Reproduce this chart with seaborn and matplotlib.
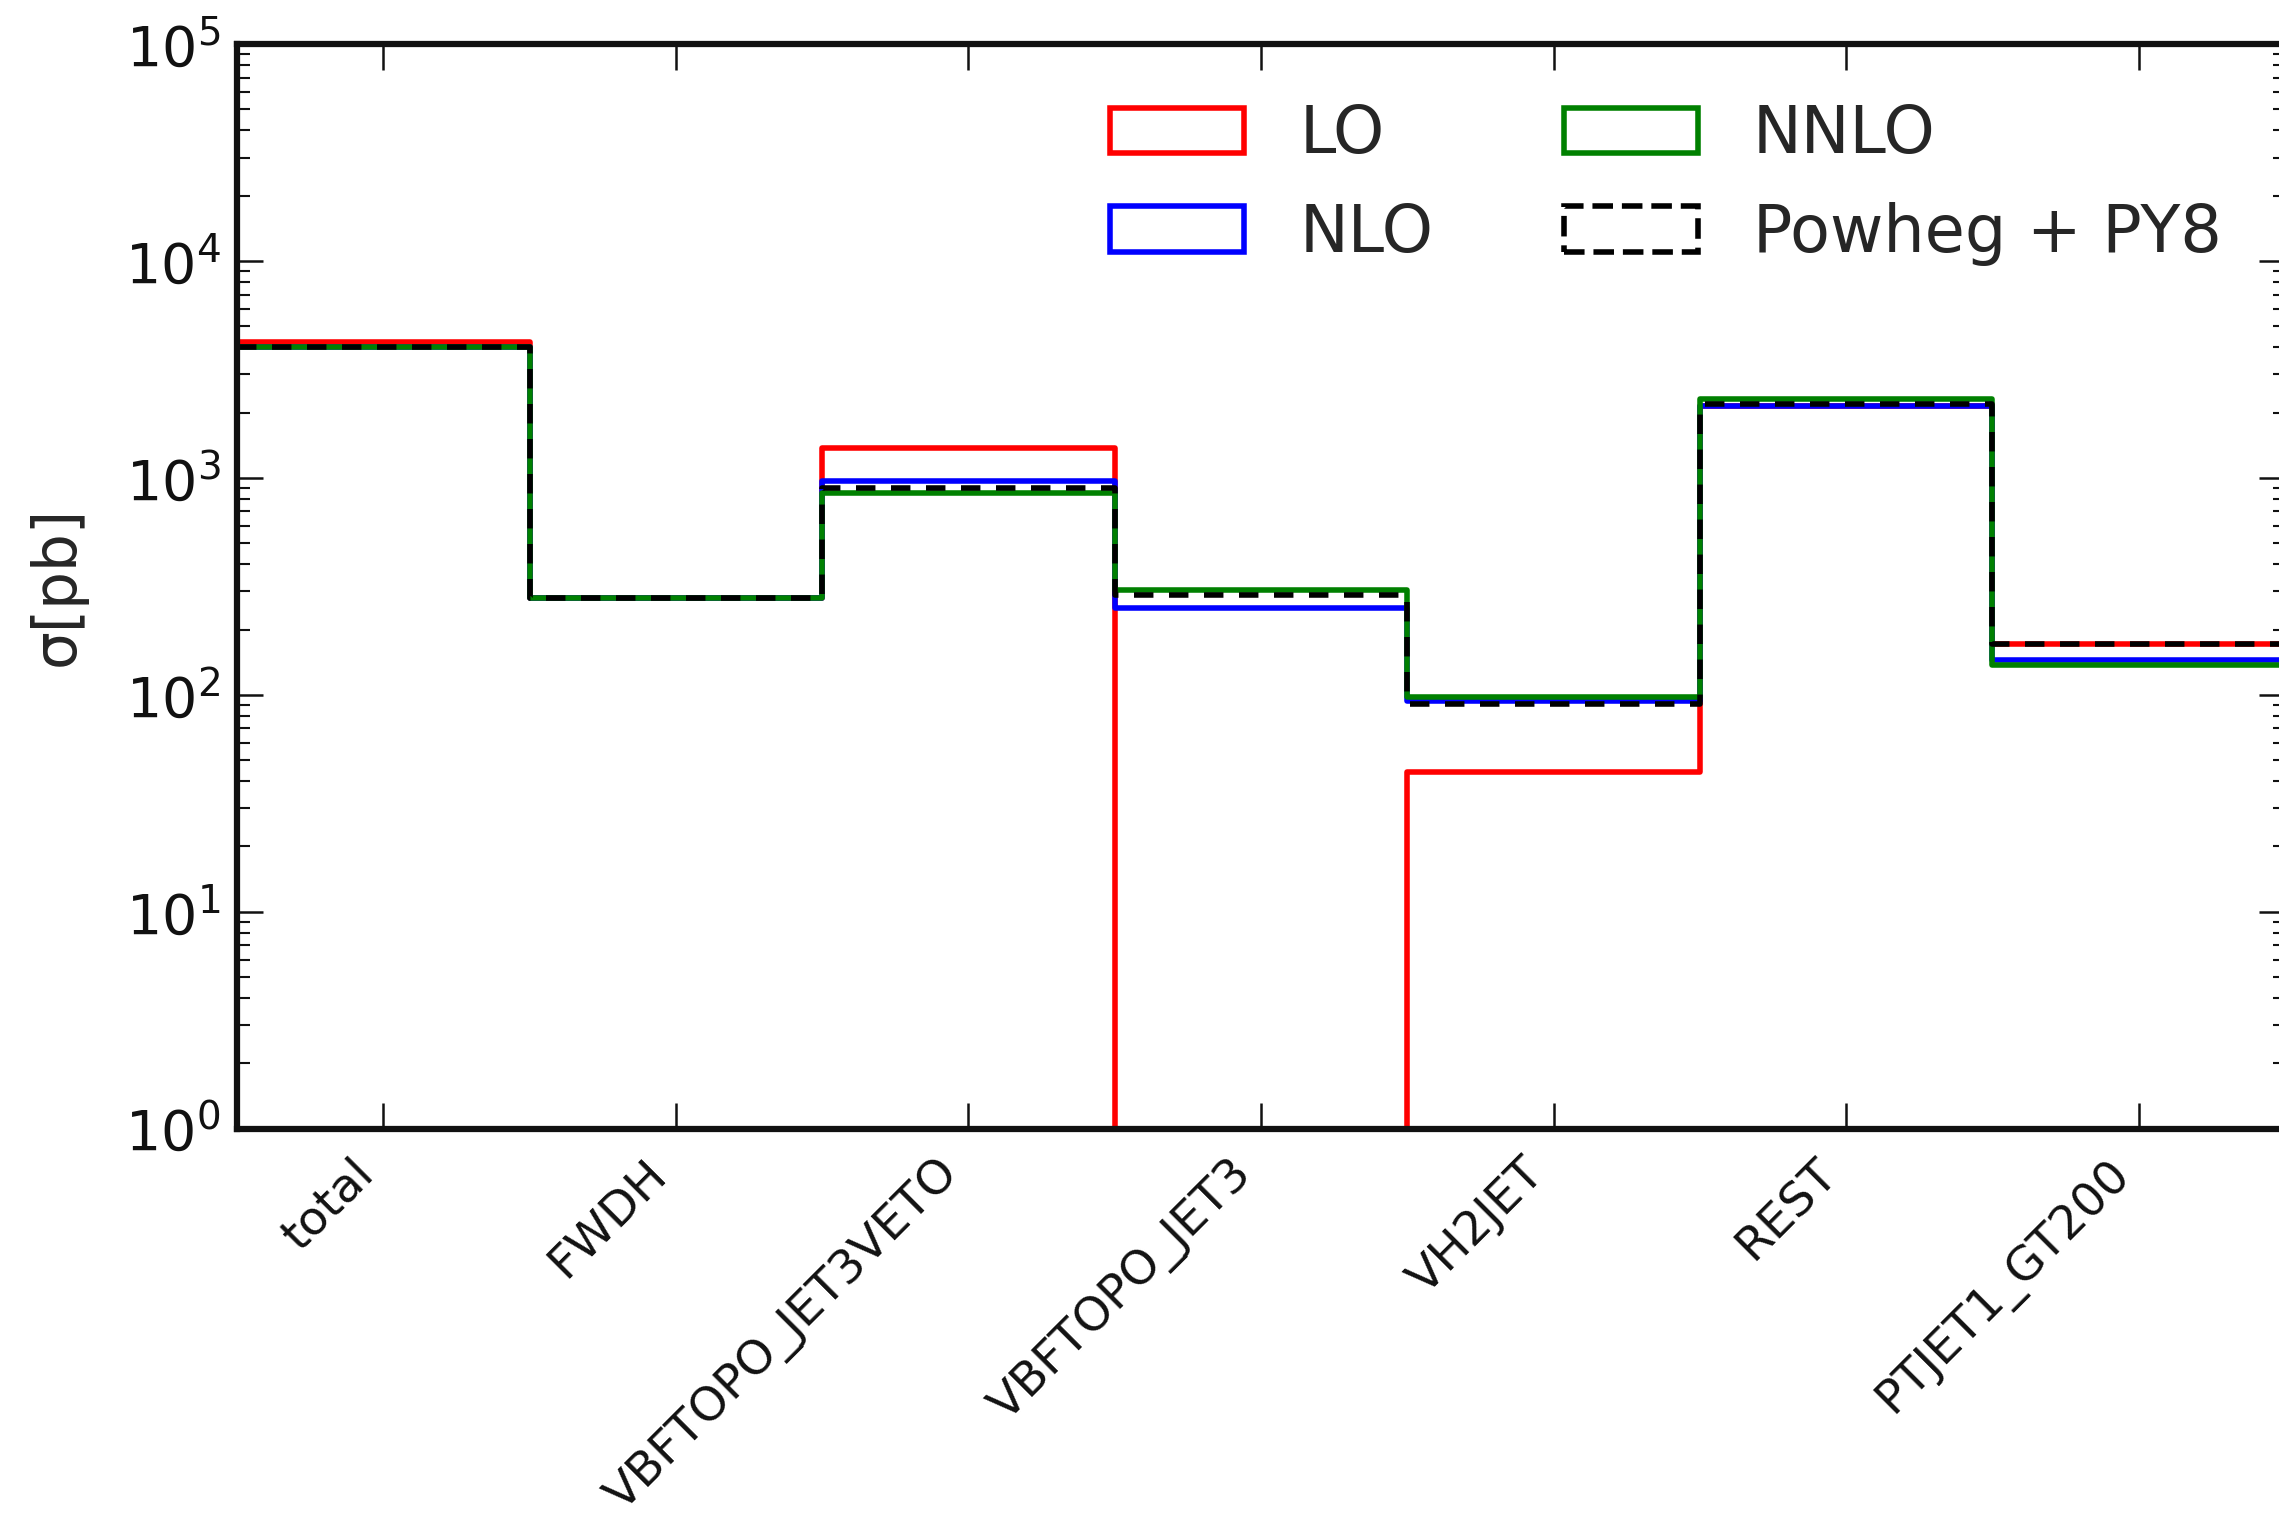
import numpy as np
import pandas as pd
import matplotlib
matplotlib.use("Agg")
import matplotlib.pyplot as plt
import seaborn as sns
from matplotlib.patches import Patch

# ---- data ----
categories = ["total", "FWDH", "VBFTOPO_JET3VETO", "VBFTOPO_JET3",
              "VH2JET", "REST", "PTJET1_GT200"]
lo_values = [4250, 280, 1370, 0, 44, 2150, 172]
nlo_values = [4000, 280, 966, 250, 94, 2150, 144]
nnlo_values = [4000, 280, 855, 305, 98, 2310, 137]
powheg_values = [4000, 280, 900, 290, 91, 2200, 172]

series_names = ["LO", "NLO", "NNLO", "Powheg + PY8"]
series_values = [lo_values, nlo_values, nnlo_values, powheg_values]
series_colors = ["#ff0000", "#0000ff", "#008000", "#000000"]
series_dashed = [False, False, False, True]
y_label = "σ[pb]"

# ---- style ----
sns.set_style("ticks")
plt.rcParams["font.family"] = ["DejaVu Sans"]
plt.rcParams["mathtext.fontset"] = "dejavusans"

fig = plt.figure(figsize=(22.79, 15.21), dpi=100)
ax = fig.add_axes([0.104, 0.258, 0.8986, 0.713])
ax.set_yscale("log")

positions = list(range(len(categories)))
LW = 4.0
for name, vals, col, dashed in zip(series_names, series_values,
                                   series_colors, series_dashed):
    df = pd.DataFrame({"pos": positions, "value": vals})
    kw = dict(color=col, linewidth=LW)
    if dashed:
        kw["dashes"] = (3.5, 2.8)
    sns.histplot(data=df, x="pos", weights="value", discrete=True,
                 element="step", fill=False, ax=ax, **kw)

ax.set_xlim(-0.5, len(categories) - 0.5)
ax.set_ylim(1e0, 1e5)
ax.set_xticks(positions)
ax.set_xticklabels(categories, rotation=45, ha="right", fontsize=34)
ax.set_xlabel("")
ax.set_ylabel(y_label, fontsize=43, labelpad=27)

for side in ["left", "right", "top", "bottom"]:
    ax.spines[side].set_linewidth(4.5)
    ax.spines[side].set_color("#111111")

ax.tick_params(axis="both", which="both", direction="in", top=True,
               right=True, colors="#111111")
ax.tick_params(axis="both", which="major", length=19, width=1.8)
ax.tick_params(axis="y", which="minor", length=9, width=1.5)
ax.tick_params(axis="y", which="major", labelsize=40, pad=12)
ax.tick_params(axis="x", which="major", pad=16)

handles = []
for name, col, dashed in zip(series_names, series_colors, series_dashed):
    handles.append(Patch(facecolor="none", edgecolor=col, linewidth=LW,
                         linestyle="--" if dashed else "-", label=name))
leg = ax.legend(handles=handles, ncol=2, loc="upper left",
                bbox_to_anchor=(0.487, 0.932), bbox_transform=fig.transFigure,
                frameon=False, fontsize=47, handlelength=2.05,
                handleheight=0.7, handletextpad=0.85, columnspacing=2.0,
                labelspacing=0.53, borderpad=0, borderaxespad=0)

fig.savefig("out.png", dpi=100)
